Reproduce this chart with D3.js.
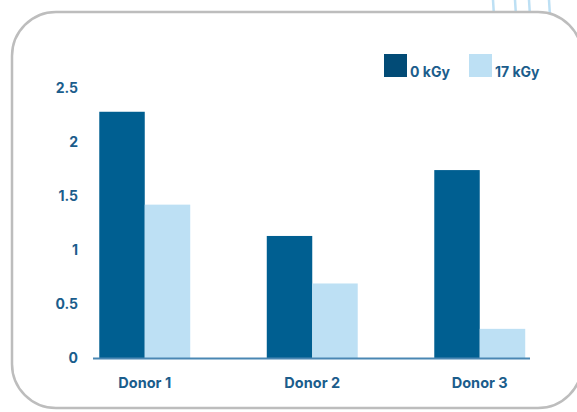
<!DOCTYPE html>
<html>
<head>
<meta charset="utf-8">
<script src="https://cdn.jsdelivr.net/npm/d3@7"></script>
<style>
  body { margin: 0; background: #fff; }
  text { font-family: "Inter", "Roboto", sans-serif; font-weight: 700; fill: #1b5d8c; }
</style>
</head>
<body>
<svg id="chart"></svg>
<script>
// chart data
var donors = ["Donor 1", "Donor 2", "Donor 3"];
var seriesNames = ["0 kGy", "17 kGy"];
var dose0 = [2.28, 1.13, 1.74];
var dose17 = [1.42, 0.69, 0.27];
var yTicks = [0, 0.5, 1, 1.5, 2, 2.5];

var width = 577, height = 412;
var barColours = ["#005f91", "#bde0f4"];
var legendColours = ["#024b76", "#bde0f4"];

var svg = d3.select("#chart")
    .attr("width", width)
    .attr("height", height);

// decorative lines behind the card (top right)
var decoX = [493, 515, 529, 549];
svg.selectAll("line.deco")
    .data(decoX)
    .enter()
    .append("line")
    .attr("x1", function(d){ return d; })
    .attr("x2", function(d){ return d + 1; })
    .attr("y1", 0)
    .attr("y2", 16)
    .attr("stroke", "#bde0f4")
    .attr("stroke-width", 2.5);

// card
svg.append("rect")
    .attr("x", 12)
    .attr("y", 12)
    .attr("width", 570)
    .attr("height", 396)
    .attr("rx", 44)
    .attr("fill", "#fff")
    .attr("stroke", "#bdbdbd")
    .attr("stroke-width", 2.5);

// scales
var y = d3.scaleLinear().domain([0, 2.5]).range([358, 88]);
var x0 = d3.scaleBand().domain(donors).range([61, 563.5])
    .paddingInner(0.457).paddingOuter(0.2285);
var x1 = d3.scaleBand().domain(seriesNames).range([0, x0.bandwidth()]);

// y tick labels
svg.selectAll("text.ytick")
    .data(yTicks)
    .enter()
    .append("text")
    .attr("class", "ytick")
    .attr("x", 78)
    .attr("y", function(d){ return y(d); })
    .attr("dy", "0.36em")
    .attr("text-anchor", "end")
    .attr("font-size", 14)
    .text(function(d){ return d; });

// bars
var values = [dose0, dose17];
values.forEach(function(series, s){
    svg.selectAll("rect.s" + s)
        .data(series)
        .enter()
        .append("rect")
        .attr("class", "s" + s)
        .attr("x", function(d, i){ return x0(donors[i]) + x1(seriesNames[s]); })
        .attr("y", function(d){ return y(d); })
        .attr("width", x1.bandwidth())
        .attr("height", function(d){ return y(0) - y(d); })
        .attr("fill", barColours[s]);
});

// x axis line
svg.append("line")
    .attr("x1", 93)
    .attr("x2", 530)
    .attr("y1", y(0) + 0.5)
    .attr("y2", y(0) + 0.5)
    .attr("stroke", "#4a87b3")
    .attr("stroke-width", 2);

// x labels
svg.selectAll("text.xlabel")
    .data(donors)
    .enter()
    .append("text")
    .attr("class", "xlabel")
    .attr("x", function(d){ return x0(d) + x0.bandwidth() / 2; })
    .attr("y", 388)
    .attr("text-anchor", "middle")
    .attr("font-size", 14.5)
    .text(function(d){ return d; });

// legend
var legendX = [384, 469];
seriesNames.forEach(function(name, s){
    svg.append("rect")
        .attr("x", legendX[s])
        .attr("y", 54)
        .attr("width", 23)
        .attr("height", 23)
        .attr("fill", legendColours[s]);
    svg.append("text")
        .attr("x", legendX[s] + 26)
        .attr("y", 77)
        .attr("font-size", 14)
        .text(name);
});
</script>
</body>
</html>
